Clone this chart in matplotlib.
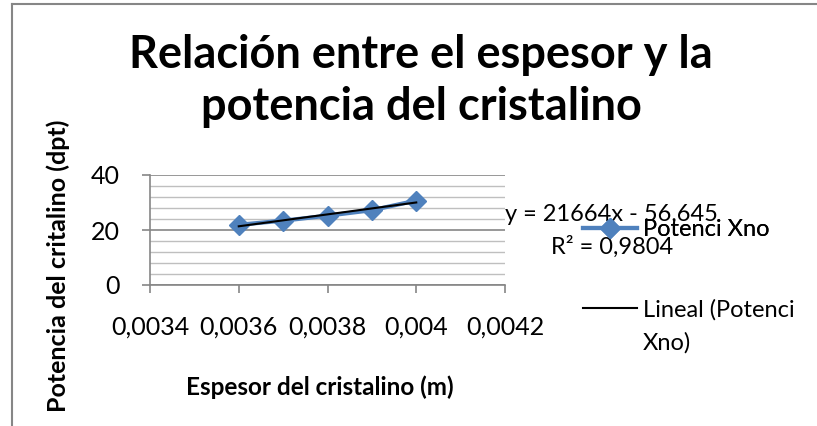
import numpy as np
import matplotlib.pyplot as plt
from matplotlib.lines import Line2D
from matplotlib.ticker import MultipleLocator

plt.rcParams['font.family'] = ['Lato', 'DejaVu Sans']

# datos
espesor = [0.0036, 0.0037, 0.0038, 0.0039, 0.0040]
potencia = [21.9, 23.4, 25.2, 27.2, 30.7]
pendiente = 21664
intercepto = -56.645
x_ticks = [0.0034, 0.0036, 0.0038, 0.0040, 0.0042]
x_tick_labels = ['0,0034', '0,0036', '0,0038', '0,004', '0,0042']

azul = '#4F81BD'
gris = '#868686'

fig = plt.figure(figsize=(8.17, 4.26), dpi=100)
ax = fig.add_axes([150/817, 141/426, 355/817, 110/426])

# borde del gráfico (solo izquierda y arriba visibles)
fig.add_artist(Line2D([12/817, 12/817], [0, 1 - 4/426], color=gris, lw=1.5, transform=fig.transFigure))
fig.add_artist(Line2D([12/817, 1], [1 - 4/426, 1 - 4/426], color=gris, lw=1.5, transform=fig.transFigure))

xs = np.array(espesor)
ax.plot(xs, potencia, color=azul, lw=3, marker='D', markersize=10.5, label='Potenci Xno', zorder=3)
ax.plot(xs, pendiente * xs + intercepto, color='black', lw=1.5, label='Lineal (Potenci', zorder=4)

ax.set_xlim(0.0034, 0.0042)
ax.set_ylim(0, 40)
ax.set_xticks(x_ticks)
ax.set_xticklabels(x_tick_labels)
ax.yaxis.set_major_locator(MultipleLocator(20))
ax.yaxis.set_minor_locator(MultipleLocator(4))
ax.grid(True, which='major', axis='y', color=gris, lw=1.2)
ax.grid(True, which='minor', axis='y', color='#BFBFBF', lw=1.0)
ax.set_axisbelow(True)

for s in ['top', 'right']:
    ax.spines[s].set_visible(False)
for s in ['left', 'bottom']:
    ax.spines[s].set_color(gris)
    ax.spines[s].set_linewidth(1.2)

ax.tick_params(axis='y', which='major', length=6, color=gris, width=1.2, labelsize=18, pad=16)
ax.tick_params(axis='y', which='minor', length=0)
ax.tick_params(axis='x', length=6, color=gris, width=1.2, labelsize=18, pad=16)

ax.set_xlabel('Espesor del cristalino (m)', fontsize=17.5, fontweight='bold')
ax.set_ylabel('Potencia del critalino (dpt)', fontsize=18, fontweight='bold')
ax.xaxis.set_label_coords(170/355, -(375 - 285) / 110)
ax.yaxis.set_label_coords(-(150 - 70) / 355, (285 - 266) / 110)

fig.text(421/817, 1 - 81/426, 'Relación entre el espesor y la\npotencia del cristalino',
         ha='center', va='center', fontsize=32.5, fontweight='bold', linespacing=1.28)

# ecuación de la tendencia
fig.text(611/817, 1 - 214/426, 'y = 21664x - 56,645', ha='center', va='center', fontsize=17)
fig.text(612/817, 1 - 247/426, 'R² = 0,9804', ha='center', va='center', fontsize=17)

leg1 = fig.legend(handles=[ax.lines[0]], loc='center left', bbox_to_anchor=(583/817, 1 - 230/426),
                  frameon=False, fontsize=17, handlelength=2.3, handletextpad=0.25,
                  borderpad=0, borderaxespad=0)
leg2 = fig.legend(handles=[ax.lines[1]], loc='center left', bbox_to_anchor=(583/817, 1 - 310/426),
                  frameon=False, fontsize=17, handlelength=2.3, handletextpad=0.25,
                  borderpad=0, borderaxespad=0)
fig.add_artist(leg1)
fig.text(643/817, 1 - 343/426, 'Xno)', ha='left', va='center', fontsize=17)

fig.savefig('out.png', dpi=100)
